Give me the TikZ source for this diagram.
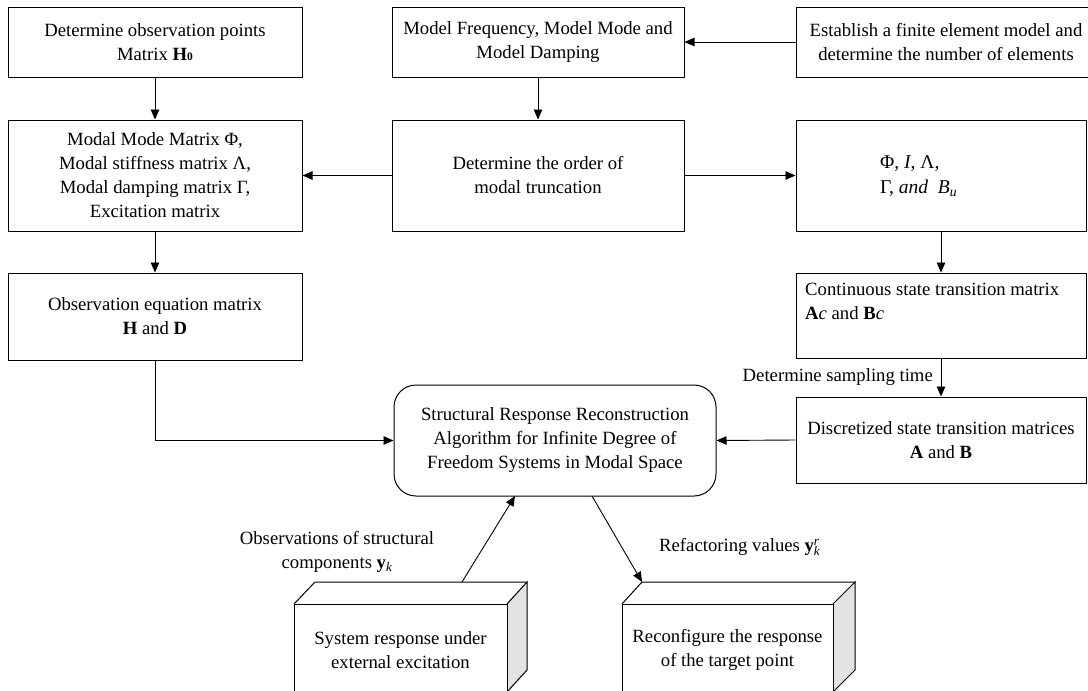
\documentclass[tikz,border=0pt]{standalone}
\usepackage{fontspec}
\setmainfont{Liberation Serif}
\usetikzlibrary{arrows.meta,calc}
\begin{document}
\begin{tikzpicture}[x=1pt,y=-1pt,
  every node/.style={font=\fontsize{18.7}{24}\selectfont},
  box/.style={draw,line width=1pt,align=center,inner sep=0pt},
  rbox/.style={box,rounded corners=22pt},
  lab/.style={inner sep=0pt,align=center},
  conn/.style={line width=0.9pt,-{Triangle[length=10pt,width=8.5pt]}},
  face/.style={draw,line width=1pt,line join=miter}]
\useasboundingbox (0,0) rectangle (1088,691);
\clip (0,0) rectangle (1088,691);
\fill[white] (0,0) rectangle (1088,691);

% top row
\node[box,minimum width=294pt,minimum height=70pt] (obs) at (155,42)
  {Determine observation points\\Matrix \textbf{H}{\fontsize{11.5}{11.5}\selectfont\bfseries 0}};
\node[box,minimum width=292pt,minimum height=70pt] (freq) at (538,42)
  {Model Frequency, Model Mode and\\Model Damping};
\node[box,minimum width=300pt,minimum height=70pt] (fem) at (946,42)
  {Establish a finite element model and\\determine the number of elements};

% second row
\node[box,minimum width=294pt,minimum height=111pt] (modal) at (155,175.5)
  {Modal Mode Matrix Φ,\\Modal stiffness matrix Λ,\\Modal damping matrix Γ,\\Excitation matrix};
\node[box,minimum width=292pt,minimum height=111pt] (order) at (538,175.5)
  {Determine the order of\\modal truncation};
\node[box,minimum width=290pt,minimum height=111pt] (phi) at (941,175.5) {};
\node[lab,anchor=west,align=left,font=\fontsize{19.5}{24.5}\selectfont] (phit) at (880,176)
  {Φ, \textit{I}, Λ,\\Γ, \textit{and}\ \ $\mathit{B}_{\mathit{u}}$};

% third row
\node[box,minimum width=294pt,minimum height=87pt] (hd) at (155,316.5)
  {Observation equation matrix\\\textbf{H} and \textbf{D}};
\node[box,minimum width=290pt,minimum height=85pt] (cont) at (941,315.5) {};
\node[lab,anchor=north west,align=left] (contt) at (805,283)
  {Continuous state transition matrix\\\textbf{A}\textit{c} and \textbf{B}\textit{c}};
\node[lab,anchor=east] (samp) at (933,377) {Determine sampling time};

% fourth row
\node[box,minimum width=290pt,minimum height=86pt] (disc) at (941,440)
  {Discretized state transition matrices\\\textbf{A} and \textbf{B}};
\node[rbox,minimum width=322pt,minimum height=111pt] (alg) at (555,440.5)
  {Structural Response Reconstruction\\Algorithm for Infinite Degree of\\Freedom Systems in Modal Space};

% 3D boxes
\fill[gray!22] (507,604) -- (527,582) -- (527,670) -- (507,692) -- cycle;
\draw[face] (507,604) -- (527,582) -- (527,670) -- (507,692);
\draw[face] (294,604) -- (315,582) -- (527,582);
\node[box,minimum width=213pt,minimum height=92pt] (sys) at (400.5,650)
  {System response under\\external excitation};
\coordinate (sysTop) at (462,582);

\fill[gray!22] (833,604) -- (855,582) -- (855,670) -- (833,692) -- cycle;
\draw[face] (833,604) -- (855,582) -- (855,670) -- (833,692);
\draw[face] (622,604) -- (642,582) -- (855,582);
\node[box,minimum width=211pt,minimum height=92pt] (rec) at (727.5,650)
  {Reconfigure the response\\of the target point};
\coordinate (recTop) at (642,582);

\coordinate (algIn) at (515,496);
\coordinate (algOut) at (592,496);

\node[lab] (obsl) at (337,552) {Observations of structural\\components $\mathbf{y}_{\mathit{k}}$};
\node[lab,anchor=west] (refl) at (659,547) {Refactoring values $\mathbf{y}^{\mathit{r}}_{\mathit{k}}$};

% connectors
\draw[conn] (fem.west) -- (freq.east);
\draw[conn] (obs.south) -- (modal.north);
\draw[conn] (freq.south) -- (order.north);
\draw[conn] (order.west) -- (modal.east);
\draw[conn] (order.east) -- (phi.west);
\draw[conn] (modal.south) -- (hd.north);
\draw[conn] (phi.south) -- (cont.north);
\draw[conn] (cont.south) -- (disc.north);
\draw[conn] (disc.west) -- (alg.east);
\draw[conn] (hd.south) |- (alg.west);
\draw[conn] (sysTop) -- (algIn);
\draw[conn] (algOut) -- (recTop);
\end{tikzpicture}
\end{document}
